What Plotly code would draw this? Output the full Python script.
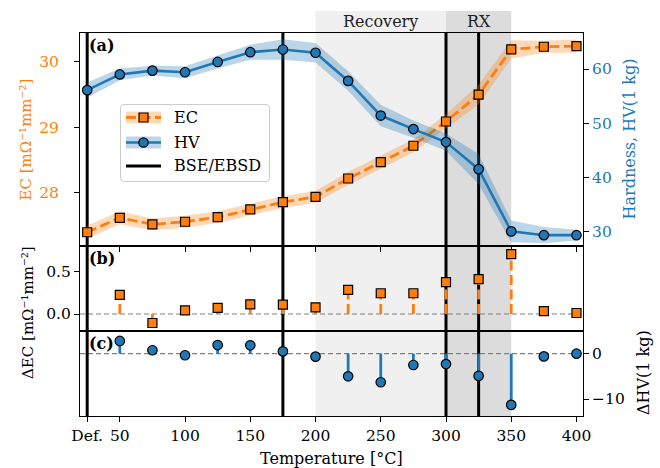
import plotly.graph_objects as go

# ---------------- data ----------------
temps = [25, 50, 75, 100, 125, 150, 175, 200, 225, 250, 275, 300, 325, 350, 375, 400]
ec = [27.40, 27.62, 27.52, 27.56, 27.63, 27.75, 27.86, 27.94, 28.22, 28.47, 28.72, 29.09, 29.50, 30.19, 30.23, 30.24]
ec_err = [0.10, 0.10, 0.09, 0.09, 0.09, 0.09, 0.09, 0.09, 0.10, 0.10, 0.10, 0.11, 0.15, 0.14, 0.09, 0.10]
hv = [56.1, 59.0, 59.7, 59.4, 61.3, 63.1, 63.6, 63.0, 57.8, 51.4, 48.9, 46.5, 41.5, 30.0, 29.3, 29.3]
hv_err = [1.4, 1.1, 0.9, 1.1, 1.2, 1.4, 1.9, 1.8, 1.8, 2.0, 1.6, 1.6, 2.8, 2.0, 1.5, 1.0]

delta_temps = [50, 75, 100, 125, 150, 175, 200, 225, 250, 275, 300, 325, 350, 375, 400]
d_ec = [0.224, -0.106, 0.043, 0.071, 0.114, 0.110, 0.079, 0.283, 0.244, 0.244, 0.374, 0.410, 0.705, 0.035, 0.012]
d_hv = [2.8, 0.75, -0.35, 1.9, 1.85, 0.5, -0.65, -5.0, -6.3, -2.5, -2.3, -4.9, -11.3, -0.6, 0.0]

bse_x = [25, 175, 300, 325]
recovery = [200, 300]
rx = [300, 350]

x_tickvals = [25, 50, 100, 150, 200, 250, 300, 350, 400]
x_ticktext = ["Def.", "50", "100", "150", "200", "250", "300", "350", "400"]
ec_ticks = [28, 29, 30]
hv_ticks = [30, 40, 50, 60]
dec_ticks = [0.0, 0.5]
dec_ticktext = ["0.0", "0.5"]
dhv_ticks = [-10, 0]

# ---------------- geometry helpers ----------------
W, H = 660, 468
L, R, T, B = 80, 77, 33, 52
PW, PH = W - L - R, H - T - B


def px(x):
    return (x - L) / PW


def py(y):
    return (H - B - y) / PH


ORANGE = "#ff7f0e"
BLUE = "#1f77b4"
FONT = "DejaVu Serif"
FS = 16
TFS = 15.5
UFS = 15
EC_DASH = "10px,4.5px"
UNIT = "[mΩ⁻¹mm⁻²]"

fig = go.Figure()

# EC band + line (top panel, left axis)
fig.add_trace(go.Scatter(
    x=temps + temps[::-1],
    y=[v + e for v, e in zip(ec, ec_err)] + [v - e for v, e in zip(ec[::-1], ec_err[::-1])],
    fill="toself", fillcolor="rgba(255,127,14,0.3)", line=dict(width=0),
    mode="lines", hoverinfo="skip", showlegend=False, xaxis="x", yaxis="y"))
fig.add_trace(go.Scatter(
    x=temps, y=ec, mode="lines+markers", name="EC",
    line=dict(color=ORANGE, width=2.8, dash=EC_DASH),
    marker=dict(symbol="square", size=9, color=ORANGE, line=dict(color="black", width=1.2)),
    showlegend=False, xaxis="x", yaxis="y"))

# HV band + line (top panel, right axis)
fig.add_trace(go.Scatter(
    x=temps + temps[::-1],
    y=[v + e for v, e in zip(hv, hv_err)] + [v - e for v, e in zip(hv[::-1], hv_err[::-1])],
    fill="toself", fillcolor="rgba(31,119,180,0.3)", line=dict(width=0),
    mode="lines", hoverinfo="skip", showlegend=False, xaxis="x", yaxis="y4"))
fig.add_trace(go.Scatter(
    x=temps, y=hv, mode="lines+markers", name="HV",
    line=dict(color=BLUE, width=2.6),
    marker=dict(symbol="circle", size=9.5, color=BLUE, line=dict(color="black", width=1.2)),
    showlegend=False, xaxis="x", yaxis="y4"))

# Delta EC stems
sx, sy = [], []
for t, v in zip(delta_temps, d_ec):
    sx += [t, t, None]
    sy += [0, v, None]
fig.add_trace(go.Scatter(x=sx, y=sy, mode="lines", line=dict(color=ORANGE, width=2.8, dash=EC_DASH),
                         showlegend=False, hoverinfo="skip", xaxis="x2", yaxis="y2"))
fig.add_trace(go.Scatter(x=delta_temps, y=d_ec, mode="markers",
                         marker=dict(symbol="square", size=9, color=ORANGE, line=dict(color="black", width=1.2)),
                         showlegend=False, xaxis="x2", yaxis="y2"))

# Delta HV stems
sx, sy = [], []
for t, v in zip(delta_temps, d_hv):
    sx += [t, t, None]
    sy += [0, v, None]
fig.add_trace(go.Scatter(x=sx, y=sy, mode="lines", line=dict(color=BLUE, width=2.8),
                         showlegend=False, hoverinfo="skip", xaxis="x3", yaxis="y3"))
fig.add_trace(go.Scatter(x=delta_temps, y=d_hv, mode="markers",
                         marker=dict(symbol="circle", size=9.5, color=BLUE, line=dict(color="black", width=1.2)),
                         showlegend=False, xaxis="x3", yaxis="y3"))

shapes = []
# shaded regions
shapes.append(dict(type="rect", xref="x", yref="paper", x0=recovery[0], x1=recovery[1], y0=0, y1=py(11),
                   fillcolor="#f0f0f0", line=dict(width=0), layer="below"))
shapes.append(dict(type="rect", xref="x", yref="paper", x0=rx[0], x1=rx[1], y0=0, y1=py(11),
                   fillcolor="#dcdcdc", line=dict(width=0), layer="below"))
# zero lines
for ya in ["y2", "y3"]:
    shapes.append(dict(type="line", xref="paper", yref=ya, x0=0, x1=1, y0=0, y1=0,
                       line=dict(color="#808080", width=1.2, dash="5px,3px"), layer="below"))
# BSE/EBSD lines
for xv in bse_x:
    shapes.append(dict(type="line", xref="x", yref="paper", x0=xv, x1=xv, y0=0, y1=1,
                       line=dict(color="black", width=3), layer="below"))

# ---- manual legend ----
lx0, lx1, ly0, ly1, rr = 120.5, 269.5, 104.5, 181.5, 3.5


def P(x, y):
    return f"{px(x):.5f},{py(y):.5f}"


path = (f"M {P(lx0 + rr, ly0)} L {P(lx1 - rr, ly0)} Q {P(lx1, ly0)} {P(lx1, ly0 + rr)} "
        f"L {P(lx1, ly1 - rr)} Q {P(lx1, ly1)} {P(lx1 - rr, ly1)} L {P(lx0 + rr, ly1)} "
        f"Q {P(lx0, ly1)} {P(lx0, ly1 - rr)} L {P(lx0, ly0 + rr)} Q {P(lx0, ly0)} {P(lx0 + rr, ly0)} Z")
shapes.append(dict(type="path", xref="paper", yref="paper", path=path,
                   fillcolor="rgba(255,255,255,0.8)", line=dict(color="#cccccc", width=1), layer="above"))
sx0, sx1, mxc = 126, 161, 143.5
rows = [117.5, 142.5, 166]
# EC entry
shapes.append(dict(type="rect", xref="paper", yref="paper", x0=px(sx0), x1=px(sx1), y0=py(rows[0] + 6), y1=py(rows[0] - 6),
                   fillcolor="rgba(255,127,14,0.3)", line=dict(width=0), layer="above"))
shapes.append(dict(type="line", xref="paper", yref="paper", x0=px(sx0), x1=px(sx1), y0=py(rows[0]), y1=py(rows[0]),
                   line=dict(color=ORANGE, width=2.8, dash=EC_DASH), layer="above"))
shapes.append(dict(type="rect", xref="paper", yref="paper", x0=px(mxc - 4.5), x1=px(mxc + 4.5),
                   y0=py(rows[0] + 4.5), y1=py(rows[0] - 4.5),
                   fillcolor=ORANGE, line=dict(color="black", width=1.2), layer="above"))
# HV entry
shapes.append(dict(type="rect", xref="paper", yref="paper", x0=px(sx0), x1=px(sx1), y0=py(rows[1] + 6), y1=py(rows[1] - 6),
                   fillcolor="rgba(31,119,180,0.3)", line=dict(width=0), layer="above"))
shapes.append(dict(type="line", xref="paper", yref="paper", x0=px(sx0), x1=px(sx1), y0=py(rows[1]), y1=py(rows[1]),
                   line=dict(color=BLUE, width=2.6), layer="above"))
shapes.append(dict(type="circle", xref="paper", yref="paper", x0=px(mxc - 4.7), x1=px(mxc + 4.7),
                   y0=py(rows[1] + 4.7), y1=py(rows[1] - 4.7),
                   fillcolor=BLUE, line=dict(color="black", width=1.2), layer="above"))
# BSE entry
shapes.append(dict(type="line", xref="paper", yref="paper", x0=px(sx0), x1=px(sx1), y0=py(rows[2]), y1=py(rows[2]),
                   line=dict(color="black", width=3), layer="above"))

annotations = []
for txt, yy in zip(["EC", "HV", "BSE/EBSD"], rows):
    annotations.append(dict(text=txt, xref="paper", yref="paper", x=px(172), y=py(yy), xanchor="left",
                            yanchor="middle", showarrow=False, font=dict(family=FONT, size=FS, color="black")))

# panel labels
for txt, yy in zip(["(a)", "(b)", "(c)"], [46, 258, 343]):
    annotations.append(dict(text=f"<b>{txt}</b>", xref="paper", yref="paper", x=px(87), y=py(yy), xanchor="left",
                            yanchor="middle", showarrow=False, font=dict(family=FONT, size=FS, color="black")))

# region labels
annotations.append(dict(text="Recovery", xref="x", yref="paper", x=sum(recovery) / 2, y=py(22), xanchor="center",
                        yanchor="middle", showarrow=False, font=dict(family=FONT, size=FS, color="#222222")))
annotations.append(dict(text="RX", xref="x", yref="paper", x=bse_x[3], y=py(22), xanchor="center",
                        yanchor="middle", showarrow=False, font=dict(family=FONT, size=FS, color="#222222")))

# axis titles
annotations.append(dict(text="EC " + UNIT, xref="paper", yref="paper", x=px(25), y=py(139.5),
                        textangle=-90, xanchor="center", yanchor="middle", showarrow=False,
                        font=dict(family=FONT, size=UFS, color=ORANGE)))
annotations.append(dict(text="ΔEC " + UNIT, xref="paper", yref="paper", x=px(28), y=py(313),
                        textangle=-90, xanchor="center", yanchor="middle", showarrow=False,
                        font=dict(family=FONT, size=UFS, color="black")))
annotations.append(dict(text="Hardness, HV(1 kg)", xref="paper", yref="paper", x=px(629), y=py(139.5),
                        textangle=-90, xanchor="center", yanchor="middle", showarrow=False,
                        font=dict(family=FONT, size=FS, color=BLUE)))
annotations.append(dict(text="ΔHV(1 kg)", xref="paper", yref="paper", x=px(643), y=py(373),
                        textangle=-90, xanchor="center", yanchor="middle", showarrow=False,
                        font=dict(family=FONT, size=FS, color="black")))
annotations.append(dict(text="Temperature [°C]", xref="paper", yref="paper", x=px(331), y=py(458),
                        xanchor="center", yanchor="middle", showarrow=False,
                        font=dict(family=FONT, size=FS, color="black")))

XR = [19.5, 405]
d_top = [py(246), 1]
d_mid = [py(331), py(246)]
d_bot = [0, py(331)]

axis_common = dict(showgrid=False, zeroline=False, showline=True, linecolor="black", linewidth=1,
                   ticks="outside", ticklen=5, tickwidth=1, tickcolor="black",
                   tickfont=dict(family=FONT, size=TFS, color="black"))

fig.update_layout(
    width=W, height=H, margin=dict(l=L, r=R, t=T, b=B),
    paper_bgcolor="white", plot_bgcolor="rgba(0,0,0,0)",
    showlegend=False, shapes=shapes, annotations=annotations,
    xaxis=dict(**axis_common, domain=[0, 1], anchor="y", range=XR, mirror=True,
               tickvals=x_tickvals, showticklabels=False),
    xaxis2=dict(**{**axis_common, "ticks": ""}, domain=[0, 1], anchor="y2", range=XR, matches="x", mirror=True,
                tickvals=x_tickvals, showticklabels=False),
    xaxis3=dict(**axis_common, domain=[0, 1], anchor="y3", range=XR, matches="x", mirror=True,
                tickvals=x_tickvals, ticktext=x_ticktext),
    yaxis=dict(**{**axis_common, "tickfont": dict(family=FONT, size=TFS, color=ORANGE)},
               domain=d_top, anchor="x", range=[27.19, 30.44], tickvals=ec_ticks, ticklabelstandoff=12),
    yaxis4=dict(**{**axis_common, "tickfont": dict(family=FONT, size=TFS, color=BLUE)},
                overlaying="y", side="right", anchor="x", range=[27.3, 66.65], tickvals=hv_ticks),
    yaxis2=dict(**axis_common, domain=d_mid, anchor="x2", range=[-0.2, 0.8], mirror=True,
                tickvals=dec_ticks, ticktext=dec_ticktext),
    yaxis3=dict(**axis_common, domain=d_bot, anchor="x3", side="right", range=[-13.75, 5.0], mirror=True,
                tickvals=dhv_ticks),
)

fig.write_html("out.html")
